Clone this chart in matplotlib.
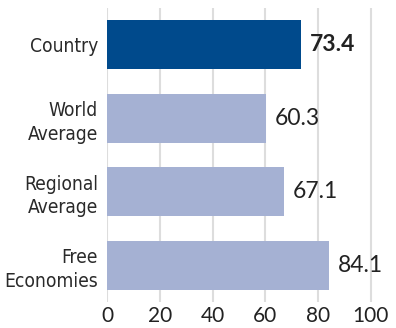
import matplotlib
matplotlib.use("Agg")
import matplotlib.pyplot as plt
from matplotlib import font_manager

categories = ["Country", "World\nAverage", "Regional\nAverage", "Free\nEconomies"]
scores = [73.4, 60.3, 67.1, 84.1]
bar_colors = ["#004a8c", "#a5b1d3", "#a5b1d3", "#a5b1d3"]
x_ticks = [0, 20, 40, 60, 80, 100]

# pick a narrow face for the category labels if one is installed
narrow = None
for f in font_manager.fontManager.ttflist:
    if f.style != "normal" or f.weight not in (400, "normal", "regular"):
        continue
    if "narrow" in f.name.lower() or "condensed" in f.name.lower() or \
            f.stretch in ("condensed", "semi-condensed", 300, 400):
        narrow = f.fname
        break
if narrow is None:
    for f in font_manager.fontManager.ttflist:
        if "Condensed" in f.fname or "Narrow" in f.fname:
            narrow = f.fname
            break

if narrow is not None:
    label_prop = font_manager.FontProperties(fname=narrow, size=13.8)
else:
    label_prop = font_manager.FontProperties(family="Roboto", size=13)

fig = plt.figure(figsize=(3.96, 3.28), dpi=100)
ax = fig.add_axes([107 / 396, 26 / 328, 289 / 396, 294 / 328])

y = range(len(categories))
ax.barh(y, scores, height=0.66, color=bar_colors, zorder=2)

for i, v in enumerate(scores):
    ax.text(v + 3.3, i, f"{v:.1f}", va="center", ha="left",
            fontsize=16.5, family="Lato", color="#222222",
            fontweight="bold" if i == 0 else "normal")

ax.set_ylim(len(categories) - 0.5, -0.5)
ax.set_xlim(0, 109.5)
ax.set_xticks(x_ticks)
ax.set_xticklabels([str(t) for t in x_ticks], fontsize=15, family="Lato", color="#222222")
ax.set_yticks(list(y))
ax.set_yticklabels(categories, fontproperties=label_prop, color="#2a2a2a",
                   linespacing=1.3)
ax.tick_params(length=0)
ax.tick_params(axis="y", pad=6.5)
ax.tick_params(axis="x", pad=3)

ax.grid(axis="x", color="#dddddd", linewidth=1.5, zorder=0)
ax.set_axisbelow(True)
for s in ax.spines.values():
    s.set_visible(False)

fig.savefig("out.png", dpi=100)
